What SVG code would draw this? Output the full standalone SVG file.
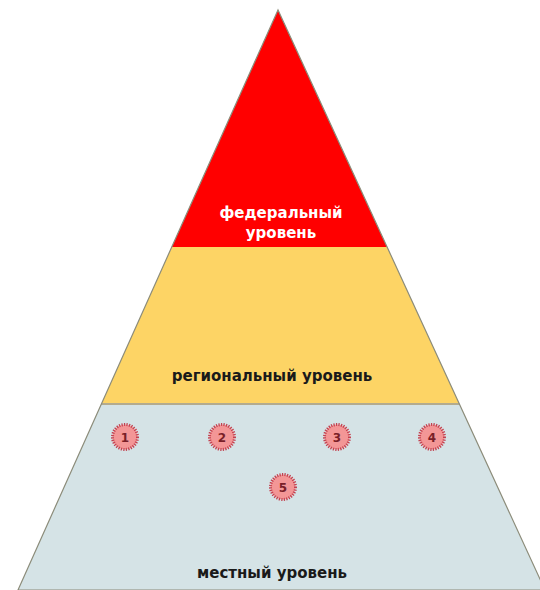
<svg xmlns="http://www.w3.org/2000/svg" width="540" height="590" viewBox="0 0 540 590">
<defs>
<style>
.lbl{font-family:"DejaVu Sans","Liberation Sans",sans-serif;font-weight:bold;font-size:15px;text-anchor:middle}
.bad{fill:#f39696;stroke:#c2404f;stroke-width:3;stroke-dasharray:1.2 1.3}
.num{font-family:"DejaVu Sans","Liberation Sans",sans-serif;font-weight:bold;font-size:12px;text-anchor:middle;fill:#7a1f28}
</style>
<clipPath id="pyr"><polygon points="278,10 18,590 545,590"/></clipPath>
</defs>
<rect width="540" height="590" fill="#ffffff"/>
<g id="tiers" clip-path="url(#pyr)">
<g id="federal"><rect x="0" y="0" width="540" height="247" fill="#ff0000"/></g>
<g id="regional"><rect x="0" y="247" width="540" height="157" fill="#fdd465"/></g>
<g id="local"><rect x="0" y="404" width="540" height="186" fill="#d5e3e6"/></g>
<line x1="0" y1="404" x2="540" y2="404" stroke="#b3ab8e" stroke-width="2"/>
</g>
<polygon points="278,10 18,590 545,590" fill="none" stroke="#8c8c7a" stroke-width="1.2"/>
<text class="lbl" x="281" y="218" fill="#ffffff">федеральный</text>
<text class="lbl" x="281" y="238" fill="#ffffff">уровень</text>
<text class="lbl" x="272" y="381" fill="#1a1a1a">региональный уровень</text>
<text class="lbl" x="272" y="578" fill="#1a1a1a">местный уровень</text>
<g id="n1"><circle class="bad" cx="125" cy="437" r="12.5"/><text class="num" x="125" y="441.5">1</text></g>
<g id="n2"><circle class="bad" cx="222" cy="437" r="12.5"/><text class="num" x="222" y="441.5">2</text></g>
<g id="n3"><circle class="bad" cx="337" cy="437" r="12.5"/><text class="num" x="337" y="441.5">3</text></g>
<g id="n4"><circle class="bad" cx="432" cy="437" r="12.5"/><text class="num" x="432" y="441.5">4</text></g>
<g id="n5"><circle class="bad" cx="283" cy="487" r="12.5"/><text class="num" x="283" y="491.5">5</text></g>
<g id="connectors"/>
</svg>
